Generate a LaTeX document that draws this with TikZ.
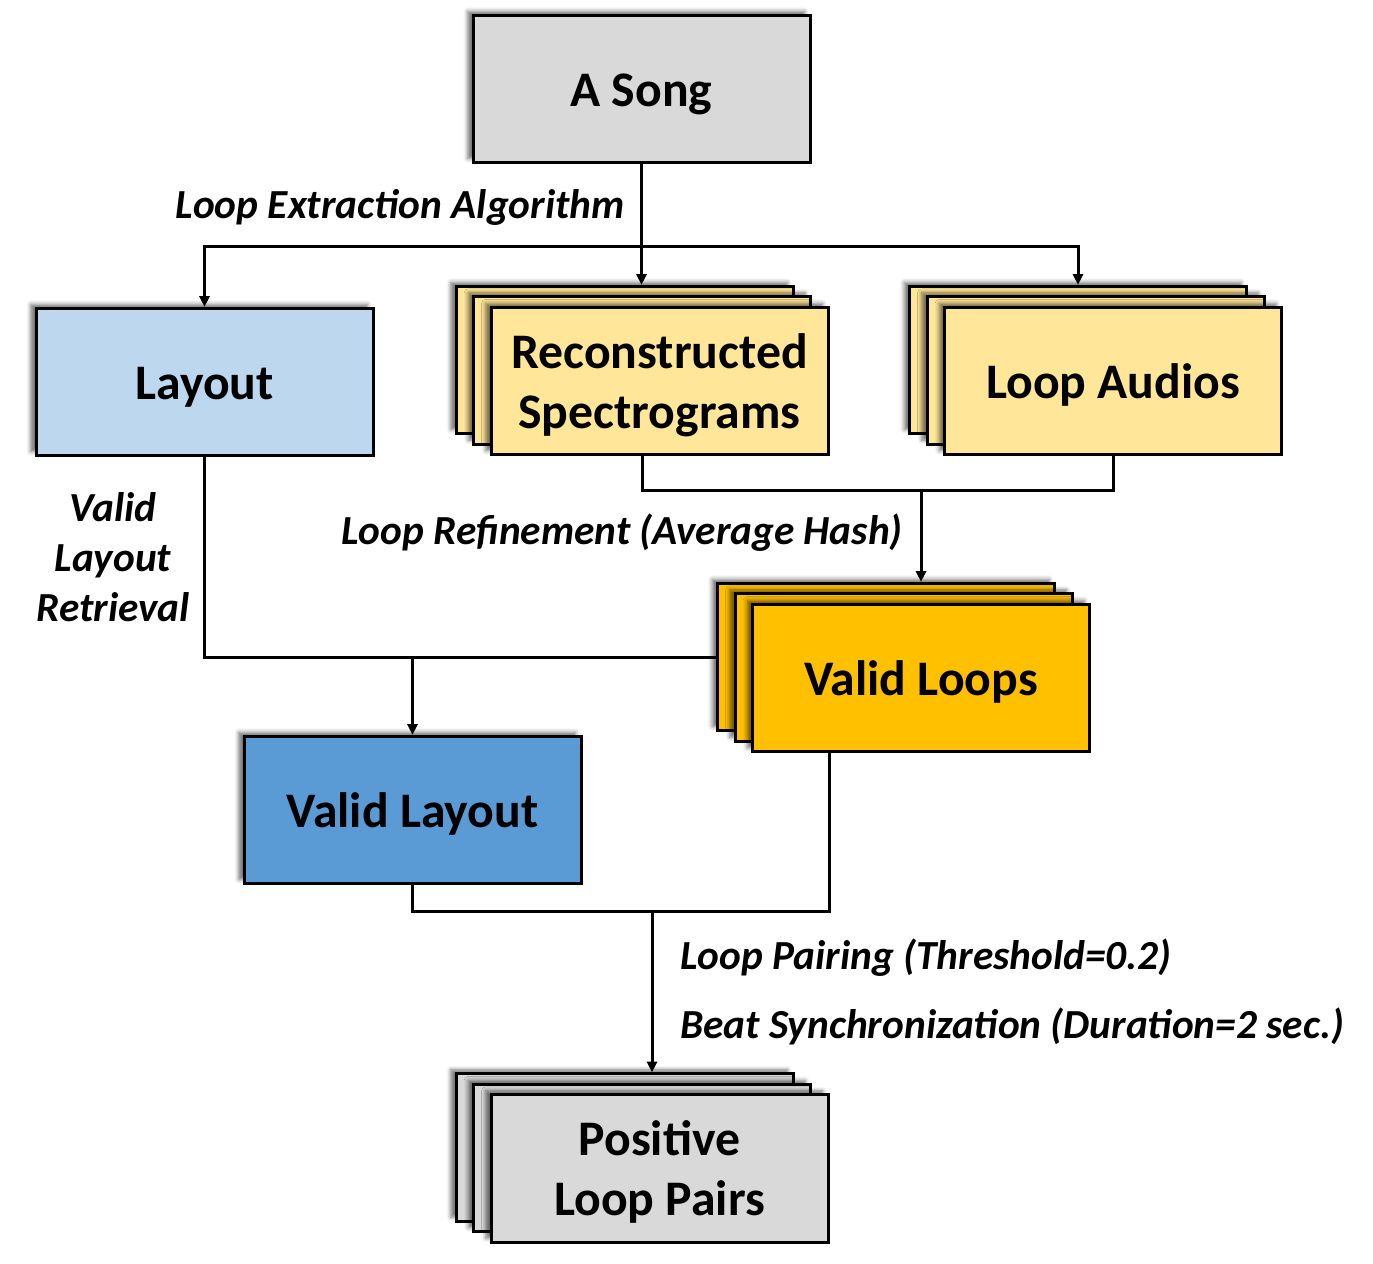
\documentclass[tikz,border=0pt]{standalone}
\usepackage{fontspec}
\setmainfont{Carlito}
\usetikzlibrary{arrows.meta,shadows.blur}
\definecolor{boxgray}{HTML}{D9D9D9}
\definecolor{lightblue}{HTML}{BDD7EE}
\definecolor{midblue}{HTML}{5B9BD5}
\definecolor{lightyellow}{HTML}{FFE699}
\definecolor{gold}{HTML}{FFC000}
\begin{document}
\begin{tikzpicture}[x=0.75pt,y=-0.75pt,
  card/.style={draw=black, line width=2.25pt, minimum width=252.75pt, minimum height=110.5pt,
    inner sep=0pt, align=center, font=\fontsize{37.3}{45}\selectfont\bfseries,
    text height=32pt, text depth=6.5pt,
    blur shadow={shadow xshift=-4pt, shadow yshift=3pt, shadow blur radius=3pt, shadow opacity=55}},
  twolines/.style={text height=77pt},
  link/.style={line width=2.25pt},
  arr/.style={line width=2.25pt, -{Triangle[length=8pt,width=7.5pt]}},
  note/.style={inner sep=0pt, align=center, font=\fontsize{31}{37.5}\selectfont\bfseries\itshape}]
\useasboundingbox (0,0) rectangle (1373,1263);

\node (song) at (641.5,89) [card, fill=boxgray] {A Song};
\node (layout) at (204.5,382) [card, fill=lightblue] {Layout};

\node (specB) at (624.5,360) [card, fill=lightyellow] {};
\node (specM) at (642,370.5) [card, fill=lightyellow] {};
\node (specF) at (659.5,381) [card, twolines, fill=lightyellow] {Reconstructed\\Spectrograms};

\node (audioB) at (1078,360) [card, fill=lightyellow] {};
\node (audioM) at (1095.5,370.5) [card, fill=lightyellow] {};
\node (audioF) at (1113,381) [card, fill=lightyellow] {Loop Audios};

\node (loopsB) at (886,657) [card, fill=gold] {};
\node (loopsM) at (903.5,667.5) [card, fill=gold] {};
\node (loopsF) at (921,678) [card, fill=gold] {Valid Loops};

\node (vlayout) at (412.5,810) [card, fill=midblue] {Valid Layout};

\node (pairsB) at (624.5,1147.5) [card, fill=boxgray] {};
\node (pairsM) at (642,1158) [card, fill=boxgray] {};
\node (pairsF) at (659.5,1168.5) [card, twolines, fill=boxgray] {Positive\\Loop Pairs};

% labels
\node (extract) at (625,207) [note, anchor=east] {Loop Extraction Algorithm};
\node (refine) at (903,533) [note, anchor=east] {Loop Refinement (Average Hash)};
\node (retrieve) at (113,557) [note] {Valid\\Layout\\Retrieval};
\node (pairing) at (680,958) [note, anchor=west] {Loop Pairing (Threshold=0.2)};
\node (beat) at (680,1026) [note, anchor=west] {Beat Synchronization (Duration=2 sec.)};

% junctions
\coordinate (j1) at (641.5,246);
\coordinate (j2) at (921,490);
\coordinate (j3) at (412.5,657);
\coordinate (j4) at (829,911);
\coordinate (j5) at (652,911);

\draw[link] (song.south) -- (j1);
\draw[arr] (j1) -| (layout.north);
\draw[arr] (j1) -- (j1 |- specB.north);
\draw[arr] (j1) -| (audioB.north);

\draw[link] (specM |- specF.south) |- (j2);
\draw[link] (audioF.south) |- (j2);
\draw[arr] (j2) -- (j2 |- loopsB.north);

\draw[link] (layout.south) |- (loopsB.west);
\draw[arr] (j3) -- (vlayout.north);

\draw[link] (j4 |- loopsF.south) -- (j4) -| (vlayout.south);
\draw[arr] (j5) -- (j5 |- pairsB.north);
\end{tikzpicture}
\end{document}
